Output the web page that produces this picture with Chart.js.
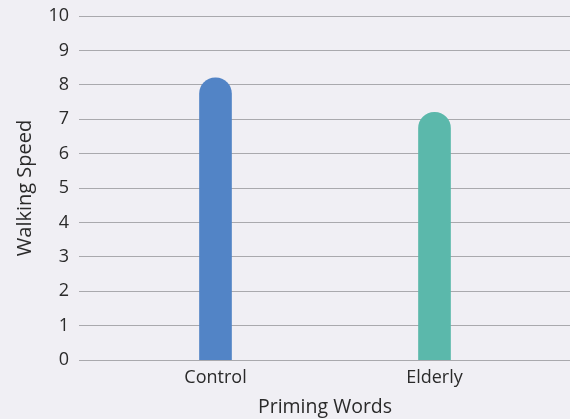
<!DOCTYPE html>
<html>
<head>
<meta charset="utf-8">
<script src="https://cdn.jsdelivr.net/npm/chart.js@4"></script>
<style>
    html, body { margin: 0; padding: 0; background: #f0eff4; }
    #wrap { width: 570px; height: 419px; }
</style>
</head>
<body>
<div id="wrap"><canvas id="speedChart"></canvas></div>
<script>
const categories = ['Control', 'Elderly'];
const speeds = [8.2, 7.2];
const barColors = ['#5284c6', '#5bb8ab'];
const gridColor = '#a9a9ad';
const textColor = '#2a2a2a';

Chart.defaults.font.family = '"Open Sans", sans-serif';

// y grid lines start left of the plot and run on to the right edge of the canvas
const fullGrid = {
    id: 'fullGrid',
    beforeDatasetsDraw(chart) {
        const ctx = chart.ctx;
        const y = chart.scales.y;
        const x0 = chart.chartArea.left - 27;
        ctx.save();
        ctx.strokeStyle = gridColor;
        ctx.lineWidth = 1;
        y.ticks.forEach(function(t) {
            let py = Math.round(y.getPixelForValue(t.value) - 0.5) + 0.5;
            ctx.beginPath();
            ctx.moveTo(x0, py);
            ctx.lineTo(chart.width, py);
            ctx.stroke();
        });
        ctx.restore();
    }
};

const ctx = document.getElementById('speedChart').getContext('2d');
const myChart = new Chart(ctx, {
    type: 'bar',
    data: {
        labels: categories,
        datasets: [{
            data: speeds,
            backgroundColor: barColors,
            barThickness: 32,
            borderRadius: { topLeft: 16, topRight: 16 },
            borderSkipped: 'start'
        }]
    },
    options: {
        responsive: true,
        maintainAspectRatio: false,
        animation: false,
        layout: { padding: { top: 16, right: 26, bottom: 0 } },
        plugins: {
            legend: { display: false },
            tooltip: { enabled: false }
        },
        scales: {
            x: {
                grid: { display: false, drawTicks: false },
                border: { display: false },
                ticks: { color: textColor, font: { size: 18 }, padding: 7 },
                title: { display: true, text: 'Priming Words', color: textColor, font: { size: 19.5 }, padding: { top: 0, bottom: 0 } }
            },
            y: {
                min: 0,
                max: 10,
                afterFit: function(scale) { scale.width = 106; },
                grid: { display: false, drawTicks: true, tickLength: 37 },
                border: { display: false },
                ticks: { stepSize: 1, color: textColor, font: { size: 18 }, padding: 0 },
                title: { display: true, text: 'Walking Speed', color: textColor, font: { size: 20 }, padding: { top: 13, bottom: 0 } }
            }
        }
    },
    plugins: [fullGrid]
});
</script>
</body>
</html>
